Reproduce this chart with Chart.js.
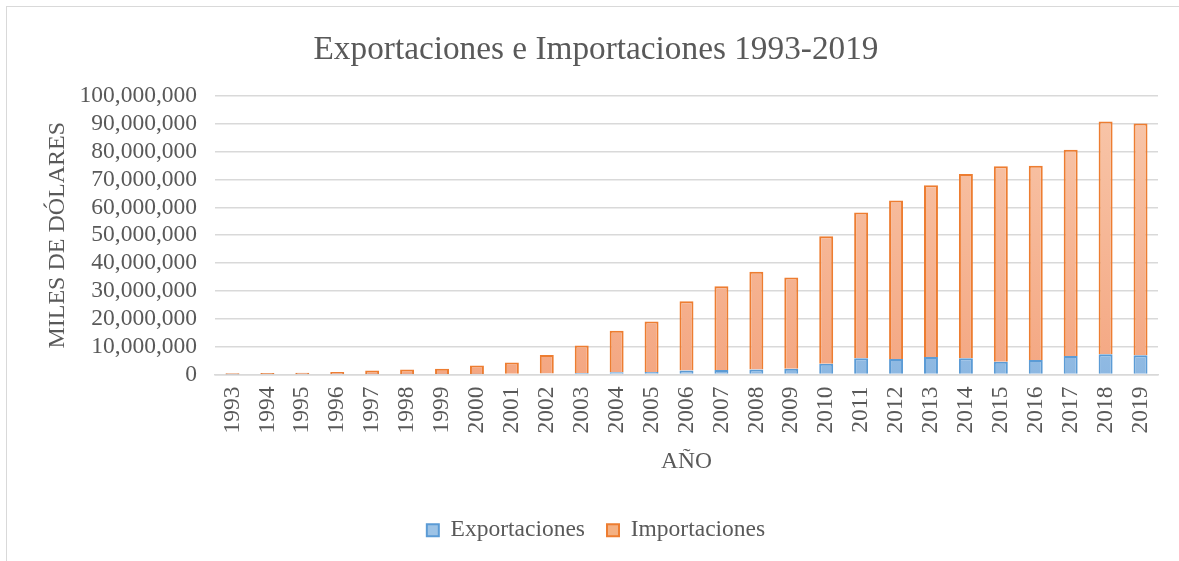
<!DOCTYPE html>
<html>
<head>
<meta charset="utf-8">
<script src="https://cdn.jsdelivr.net/npm/chart.js@4/dist/chart.umd.min.js"></script>
<style>
  body { margin: 0; background: #fff; }
  #frame { position: absolute; left: 6px; top: 6px; width: 1180px; height: 560px; border: 1px solid #d9d9d9; box-sizing: border-box; }
  canvas { position: absolute; left: 0; top: 0; }
</style>
</head>
<body>
<div id="frame"></div>
<canvas id="trade-chart" width="1179" height="561"></canvas>
<script>
// Years on the x axis
const years = ["1993", "1994", "1995", "1996", "1997", "1998", "1999", "2000", "2001",
  "2002", "2003", "2004", "2005", "2006", "2007", "2008", "2009", "2010", "2011",
  "2012", "2013", "2014", "2015", "2016", "2017", "2018", "2019"];

// Values in thousands of dollars
const exportaciones = [40000, 50000, 60000, 70000, 100000, 120000, 150000, 200000, 250000,
  350000, 500000, 800000, 900000, 1400000, 1600000, 1800000, 2100000, 3900000, 5800000,
  5600000, 6300000, 5800000, 4600000, 5200000, 6600000, 7300000, 6900000];
const importaciones = [450000, 500000, 550000, 800000, 1300000, 1700000, 1950000, 3000000, 4050000,
  6650000, 9900000, 14900000, 18100000, 24900000, 30100000, 35100000, 32700000, 45700000, 52400000,
  56900000, 61600000, 66200000, 70200000, 69700000, 74100000, 83500000, 83200000];

const serif = "'Liberation Serif', 'Times New Roman', serif";
const grey = "#595959";

// vertical gradient like the Excel fill
function fillGradient(ctx, top, bottom) {
  const chart = ctx.chart;
  const area = chart.chartArea;
  if (!area) return bottom;
  const g = chart.ctx.createLinearGradient(0, area.top, 0, area.bottom);
  g.addColorStop(0, top);
  g.addColorStop(1, bottom);
  return g;
}

new Chart("trade-chart", {
  type: "bar",
  data: {
    labels: years,
    datasets: [
      {
        label: "Exportaciones",
        data: exportaciones,
        backgroundColor: (ctx) => fillGradient(ctx, "#b4d1ee", "#8db8e2"),
        borderColor: "#5b9bd5",
        borderWidth: 2,
        barPercentage: 0.4,
        categoryPercentage: 1,
      },
      {
        label: "Importaciones",
        data: importaciones,
        backgroundColor: (ctx) => fillGradient(ctx, "#f8c7ab", "#f4a782"),
        borderColor: "#ed7d31",
        borderWidth: 2,
        barPercentage: 0.4,
        categoryPercentage: 1,
      },
    ],
  },
  options: {
    responsive: false,
    animation: false,
    layout: { padding: { left: 34, right: 21, top: 0, bottom: 9 } },
    plugins: {
      title: {
        display: true,
        text: "Exportaciones e Importaciones 1993-2019",
        color: grey,
        font: { family: serif, size: 33.3, weight: "normal" },
        padding: { top: 30, bottom: 26 },
      },
      legend: {
        position: "bottom",
        labels: {
          color: grey,
          font: { family: serif, size: 23.5 },
          boxWidth: 12,
          boxHeight: 12,
          padding: 22,
          generateLabels: (chart) => chart.data.datasets.map((ds, i) => ({
            text: ds.label,
            fillStyle: i === 0 ? "#9dc3e6" : "#f4b183",
            strokeStyle: ds.borderColor,
            lineWidth: 2,
            fontColor: grey,
            datasetIndex: i,
          })),
        },
      },
      tooltip: { enabled: false },
    },
    scales: {
      x: {
        stacked: true,
        grid: { display: false },
        border: { display: true, color: "#d9d9d9", width: 1.5 },
        ticks: {
          color: grey,
          font: { family: serif, size: 23.5 },
          minRotation: 90,
          maxRotation: 90,
          padding: 4,
        },
        title: {
          display: true,
          text: "AÑO",
          color: grey,
          font: { family: serif, size: 23.5 },
          padding: { top: 4, bottom: 21 },
        },
        afterFit: (scale) => { scale.height = 122; },
      },
      y: {
        stacked: true,
        min: 0,
        max: 100000000,
        grid: { color: "#d9d9d9", lineWidth: 1.5, drawTicks: false },
        border: { display: false },
        ticks: {
          stepSize: 10000000,
          autoSkip: false,
          color: grey,
          font: { family: serif, size: 23.5 },
          padding: 18,
          callback: (v) => v.toLocaleString("en-US"),
        },
        title: {
          display: true,
          text: "MILES DE DÓLARES",
          color: grey,
          font: { family: serif, size: 24 },
          padding: { top: 9, bottom: 4 },
        },
        afterFit: (scale) => { scale.width = 181; },
      },
    },
  },
});
</script>
</body>
</html>
